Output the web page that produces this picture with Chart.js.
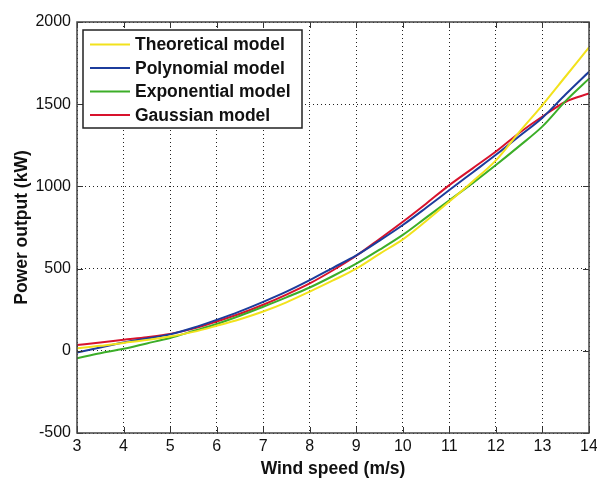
<!DOCTYPE html>
<html>
<head>
<meta charset="utf-8">
<script src="https://cdn.jsdelivr.net/npm/chart.js@4"></script>
<style>
  html, body { margin: 0; padding: 0; background: #fff; }
  #wrap { width: 597px; height: 480px; }
</style>
</head>
<body>
<div id="wrap"><canvas id="myChart"></canvas></div>
<script>
    // wind speed (m/s)
    var windSpeed = [3, 3.5, 4, 4.5, 5, 5.5, 6, 6.5, 7, 7.5, 8, 8.5, 9, 9.5, 10, 10.5, 11, 11.5, 12, 12.5, 13, 13.5, 14]
    // power output (kW) for each model
    var theoretical = [15, 30, 48, 65, 87, 115, 152, 192, 239, 295, 360, 428, 500, 590, 678, 790, 908, 1030, 1158, 1330, 1495, 1670, 1845]
    var polynomial = [-10, 20, 50, 75, 100, 140, 188, 240, 298, 360, 430, 505, 580, 670, 765, 870, 978, 1085, 1192, 1305, 1418, 1560, 1697]
    var exponential = [-45, -15, 12, 45, 78, 120, 163, 213, 268, 325, 385, 455, 530, 615, 705, 810, 915, 1020, 1130, 1245, 1365, 1520, 1655]
    var gaussian = [35, 50, 67, 83, 103, 135, 178, 225, 280, 342, 410, 490, 578, 680, 785, 895, 1008, 1110, 1212, 1325, 1425, 1515, 1565]
    var seriesNames = ['Theoretical model', 'Polynomial model', 'Exponential model', 'Gaussian model']
    var seriesColors = ['#f2e21c', '#1c3c9c', '#3cae28', '#d8122c']

    function toPoints(ys) {
        return ys.map(function(y, i) { return { x: windSpeed[i], y: y } })
    }

    var fontFam = '"Liberation Sans", Arial, sans-serif'

    // legend box inside the plot, drawn on top like matlab
    var boxLegend = {
        id: 'boxLegend',
        afterDraw: function(chart) {
            var ctx = chart.ctx
            var a = chart.chartArea
            var x0 = a.left + 6, y0 = a.top + 8, w = 219, h = 98
            ctx.save()
            ctx.fillStyle = '#fff'
            ctx.fillRect(x0, y0, w, h)
            ctx.strokeStyle = '#222'
            ctx.lineWidth = 1.5
            ctx.strokeRect(x0, y0, w, h)
            ctx.font = 'bold 17.5px ' + fontFam
            ctx.textBaseline = 'middle'
            chart.data.datasets.forEach(function(ds, i) {
                var yy = y0 + 14.5 + i * 23.5
                ctx.strokeStyle = ds.borderColor
                ctx.lineWidth = 2
                ctx.beginPath()
                ctx.moveTo(x0 + 7, yy)
                ctx.lineTo(x0 + 47, yy)
                ctx.stroke()
                ctx.fillStyle = '#111'
                ctx.fillText(ds.label, x0 + 52, yy + 1)
            })
            ctx.restore()
        }
    }

    // frame with inward ticks on all sides
    var frameTicks = {
        id: 'frameTicks',
        afterDatasetsDraw: function(chart) {
            var ctx = chart.ctx
            var a = chart.chartArea
            var xs = chart.scales.x, ys = chart.scales.y
            ctx.save()
            ctx.strokeStyle = '#333'
            ctx.lineWidth = 1
            xs.ticks.forEach(function(t) {
                var px = Math.round(xs.getPixelForValue(t.value)) + 0.5
                ctx.beginPath()
                ctx.moveTo(px, a.bottom); ctx.lineTo(px, a.bottom - 6)
                ctx.moveTo(px, a.top); ctx.lineTo(px, a.top + 6)
                ctx.stroke()
            })
            ys.ticks.forEach(function(t) {
                var py = Math.round(ys.getPixelForValue(t.value)) + 0.5
                ctx.beginPath()
                ctx.moveTo(a.left, py); ctx.lineTo(a.left + 6, py)
                ctx.moveTo(a.right, py); ctx.lineTo(a.right - 6, py)
                ctx.stroke()
            })
            ctx.strokeStyle = '#444'
            ctx.lineWidth = 1.5
            ctx.strokeRect(a.left, a.top, a.right - a.left, a.bottom - a.top)
            ctx.restore()
        }
    }

    var datasets = [theoretical, polynomial, exponential, gaussian].map(function(ys, i) {
        return {
            label: seriesNames[i],
            data: toPoints(ys),
            borderColor: seriesColors[i],
            backgroundColor: seriesColors[i],
            borderWidth: 2,
            pointRadius: 0,
            cubicInterpolationMode: 'monotone',
            fill: false
        }
    })

    var plainNum = function(v) { return String(v) }

    var ctx = document.getElementById('myChart').getContext('2d');
    var myChart = new Chart(ctx, {
        type: 'line',
        data: { datasets: datasets },
        plugins: [frameTicks, boxLegend],
        options: {
            responsive: true,
            maintainAspectRatio: false,
            animation: false,
            layout: { padding: { top: 22, right: 0, left: 0, bottom: 0 } },
            plugins: {
                legend: { display: false },
                tooltip: { enabled: false }
            },
            scales: {
                x: {
                    type: 'linear',
                    min: 3,
                    max: 14,
                    ticks: { stepSize: 1, color: '#111', font: { family: fontFam, size: 16 }, padding: 4, callback: plainNum },
                    grid: { color: '#222', drawTicks: false },
                    border: { display: false, dash: [1, 3] },
                    title: { display: true, text: 'Wind speed (m/s)', color: '#111', font: { family: fontFam, size: 17.5, weight: 'bold' }, padding: { top: 5, bottom: 0 } },
                    afterFit: function(scale) {
                        scale.height = 47
                        scale.paddingRight = 8
                        scale.paddingLeft = 0
                    }
                },
                y: {
                    min: -500,
                    max: 2000,
                    ticks: { stepSize: 500, color: '#111', font: { family: fontFam, size: 16 }, padding: 6, callback: plainNum },
                    grid: { color: '#222', drawTicks: false },
                    border: { display: false, dash: [1, 3] },
                    title: { display: true, text: 'Power output (kW)', color: '#111', font: { family: fontFam, size: 17.5, weight: 'bold' }, padding: { top: 12, bottom: 2 } },
                    afterFit: function(scale) { scale.width = 77 }
                }
            }
        }
    });
</script>
</body>
</html>
